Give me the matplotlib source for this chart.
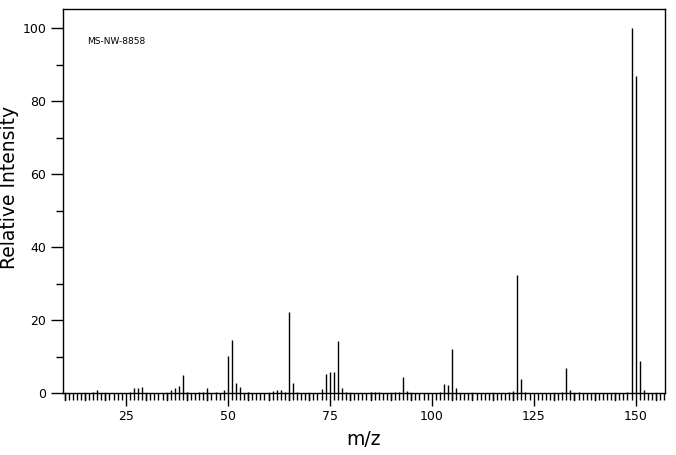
import matplotlib
matplotlib.use('Agg')
import matplotlib.pyplot as plt
from matplotlib.ticker import MultipleLocator

# peak list (m/z, relative intensity)
MZ = [17, 18, 26, 27, 28, 29, 36, 37, 38, 39, 40, 43, 44, 45, 47, 49,
      50, 51, 52, 53, 55, 61, 62, 63, 64, 65, 66, 67, 73, 74, 75, 76,
      77, 78, 79, 85, 86, 87, 91, 92, 93, 94, 102, 103, 104, 105, 106,
      119, 120, 121, 122, 123, 132, 133, 134, 136, 148, 149, 150, 151, 152]
INTENSITY = [0.3, 0.8, 0.3, 1.4, 1.4, 1.6, 0.8, 1.4, 2.0, 4.9, 0.3, 0.3, 0.3, 1.4, 0.3, 0.8,
             10.1, 14.5, 2.7, 1.6, 0.3, 0.5, 0.8, 0.8, 0.3, 22.2, 2.7, 0.3, 1.1, 5.2, 5.7, 5.7,
             14.2, 1.4, 0.3, 0.3, 0.3, 0.3, 0.3, 0.3, 4.4, 0.5, 0.3, 2.5, 2.3, 12.0, 1.4,
             0.3, 0.5, 32.4, 3.8, 0.3, 0.3, 6.9, 0.8, 0.3, 0.3, 100.0, 86.9, 8.8, 0.8]
LABEL = 'MS-NW-8858'

fig = plt.figure(figsize=(6.76, 4.55), dpi=100)
ax = fig.add_axes([0.0932, 0.1363, 0.8905, 0.8433])

ax.vlines(MZ, 0, INTENSITY, colors='black', linewidth=1.0)

ax.set_xlim(9.6, 157.2)
ax.set_ylim(0, 105.2)

ax.xaxis.set_major_locator(MultipleLocator(25))
ax.xaxis.set_minor_locator(MultipleLocator(1))
ax.yaxis.set_major_locator(MultipleLocator(20))
ax.yaxis.set_minor_locator(MultipleLocator(10))
ax.tick_params(axis='both', which='major', direction='out', length=9, width=1,
               labelsize=9, pad=3)
ax.tick_params(axis='x', which='minor', direction='out', length=5, width=1)
ax.tick_params(axis='y', which='minor', direction='out', length=5, width=1)

# medium ticks every 5 on the x axis
for v in range(10, 157, 5):
    if v % 25:
        ax.plot([v, v], [0, -1.9], color='black', lw=1, clip_on=False)

for s in ax.spines.values():
    s.set_linewidth(1)

ax.set_xlabel('m/z', fontsize=13.5, labelpad=5)
ax.set_ylabel('Relative Intensity', fontsize=13.5)
ax.yaxis.set_label_coords(-0.073, 0.535)
ax.text(0.04, 0.917, LABEL, transform=ax.transAxes, fontsize=6.5,
        va='center', ha='left')

fig.savefig('out.png', dpi=100)
